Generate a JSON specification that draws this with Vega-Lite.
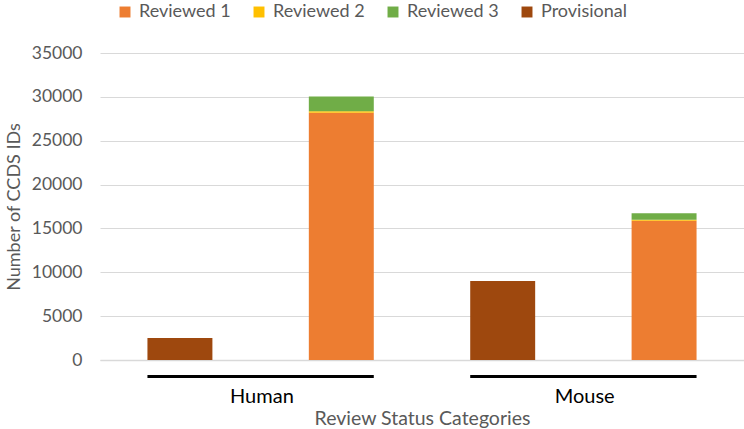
{
  "$schema": "https://vega.github.io/schema/vega-lite/v6.json",
  "width": 644,
  "height": 307,
  "autosize": {"type": "none"},
  "padding": {"left": 100, "top": 53, "right": 0, "bottom": 69},
  "background": "white",
  "config": {
    "font": "Lato",
    "view": {"stroke": null}
  },
  "datasets": {
    "bars": [
      {"slot": "Human Provisional", "status": "Provisional", "count": 2500},
      {"slot": "Human Reviewed", "status": "Reviewed 1", "count": 28200},
      {"slot": "Human Reviewed", "status": "Reviewed 2", "count": 150},
      {"slot": "Human Reviewed", "status": "Reviewed 3", "count": 1700},
      {"slot": "Mouse Provisional", "status": "Provisional", "count": 9000},
      {"slot": "Mouse Reviewed", "status": "Reviewed 1", "count": 15880},
      {"slot": "Mouse Reviewed", "status": "Reviewed 2", "count": 100},
      {"slot": "Mouse Reviewed", "status": "Reviewed 3", "count": 740}
    ],
    "groups": [
      {"group": "Human", "first": "Human Provisional", "last": "Human Reviewed"},
      {"group": "Mouse", "first": "Mouse Provisional", "last": "Mouse Reviewed"}
    ]
  },
  "layer": [
    {
      "data": {"name": "bars"},
      "mark": {"type": "bar"},
      "encoding": {
        "x": {
          "field": "slot",
          "type": "nominal",
          "sort": ["Human Provisional", "Human Reviewed", "Mouse Provisional", "Mouse Reviewed"],
          "scale": {"paddingInner": 0.5975, "paddingOuter": 0.294},
          "axis": {
            "title": "Review Status Categories",
            "titleFont": "Lato",
            "titleFontSize": 19.5,
            "titleFontWeight": "normal",
            "titleColor": "#595959",
            "titlePadding": 3,
            "labelAngle": 0,
            "labelExpr": "indexof(datum.value, 'Provisional') >= 0 ? split(datum.value, ' ')[0] : ''",
            "labelOffset": 82,
            "labelPadding": 26,
            "labelFontSize": 20,
            "labelColor": "#000000",
            "labelFont": "Lato",
            "ticks": false,
            "domainColor": "#d9d9d9",
            "domainWidth": 1.5
          }
        },
        "y": {
          "field": "count",
          "type": "quantitative",
          "aggregate": "sum",
          "stack": "zero",
          "scale": {"domain": [0, 35000], "nice": false},
          "axis": {
            "title": "Number of CCDS IDs",
            "titleFont": "Lato",
            "titleFontSize": 18,
            "titleFontWeight": "normal",
            "titleColor": "#595959",
            "titlePadding": 8,
            "values": [0, 5000, 10000, 15000, 20000, 25000, 30000, 35000],
            "format": "d",
            "labelFontSize": 17.5,
            "labelColor": "#595959",
            "labelPadding": 18,
            "ticks": false,
            "domain": false,
            "gridColor": "#d9d9d9",
            "gridWidth": 1.2
          }
        },
        "color": {
          "field": "status",
          "type": "nominal",
          "scale": {
            "domain": ["Reviewed 1", "Reviewed 2", "Reviewed 3", "Provisional"],
            "range": ["#ED7D31", "#FFC000", "#70AD47", "#9E480E"]
          },
          "legend": {
            "title": null,
            "orient": "none",
            "direction": "horizontal",
            "legendX": 16,
            "legendY": -50,
            "symbolType": "square",
            "symbolSize": 120,
            "symbolStrokeWidth": 0,
            "labelFontSize": 18,
            "labelColor": "#595959",
            "labelFont": "Lato",
            "labelOffset": 5,
            "columnPadding": 19,
            "padding": 0
          }
        },
        "order": {"field": "status", "type": "nominal", "sort": "ascending"}
      }
    },
    {
      "data": {"name": "groups"},
      "mark": {"type": "rule", "color": "#000000", "strokeWidth": 3, "clip": false},
      "encoding": {
        "x": {"field": "first", "type": "nominal", "bandPosition": 0},
        "x2": {"field": "last", "bandPosition": 1},
        "y": {"datum": -1870}
      }
    }
  ]
}
